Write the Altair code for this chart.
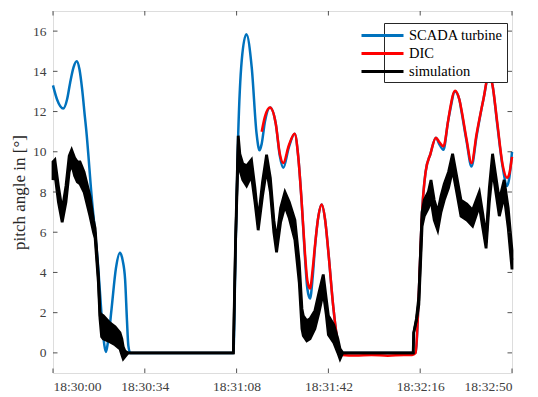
import altair as alt
import pandas as pd

# ---- data (time in seconds after 18:30:00, pitch in degrees)
scada_t = [0, 1.5, 3.8, 5.2, 6.3, 7.6, 8.8, 9.8, 10.8, 11.8, 12.3, 14.3, 16.8, 18.0, 19.0, 19.6,
           20.3, 21.7, 23.3, 24.8, 25.8, 26.7, 27.4, 27.9, 28.6, 66.8, 67.6, 68.6, 69.9, 71.6,
           73.6, 75.4, 76.5, 77.3, 78.5, 80.4, 82.5, 84.0, 85.3, 87.3, 89.5, 90.8, 92.1, 93.3,
           94.2, 95.2, 96.2, 97.0, 98.3, 99.5, 100.8, 102.0, 103.8, 105.1, 106.3, 107.2, 134.3,
           135.5, 136.5, 138.0, 139.8, 141.8, 143.0, 144.6, 146.3, 147.0, 148.9, 150.5, 151.3,
           153.2, 155.0, 156.9, 159.4, 161.5, 162.8, 164.5, 166.6, 168.2, 169.0, 170.0]
scada_v = [13.3, 12.6, 12.15, 12.6, 13.4, 14.2, 14.5, 14.1, 13.1, 11.75, 11.1, 7.8, 4.16, 1.85, 0.4, 0.05,
           0.5, 2.2, 4.2, 4.98, 4.6, 3.66, 1.6, 0.36, 0.0, 0.0, 5.0, 10.9, 14.55, 15.85,
           14.2, 10.9, 10.07, 10.4, 11.5, 12.2, 11.4, 9.8, 9.2, 10.2, 10.9, 9.8, 7.5, 4.8,
           3.2, 2.7, 3.8, 5.2, 6.8, 7.38, 6.6, 5.0, 2.3, 0.8, 0.05, 0.0, 0.0,
           3.0, 6.5, 9.0, 9.9, 10.7, 10.4, 10.1, 11.5, 12.0, 13.0, 12.6, 12.0,
           10.5, 9.27, 10.8, 12.6, 13.8, 13.3, 11.4, 9.2, 8.3, 8.7, 10.0]

dic_t = [77.3, 78.5, 80.4, 82.5, 84.0, 85.3, 87.3, 89.5, 90.8, 92.1, 93.3, 94.2, 95.2, 96.2, 97.0,
         98.3, 99.5, 100.8, 102.0, 103.8, 105.1, 106.3, 107.2, 112.0, 118.0, 124.0, 130.0, 133.0,
         134.3, 135.5, 136.5, 138.0, 139.8, 141.8, 143.0, 144.6, 146.3, 147.0, 148.9, 150.5,
         151.3, 153.2, 155.0, 156.9, 159.4, 161.5, 162.8, 164.5, 166.6, 168.2, 169.0, 170.0]
dic_v = [11.0, 11.75, 12.2, 11.4, 9.9, 9.44, 10.3, 10.9, 9.8, 7.5, 5.0, 3.6, 3.2, 4.2, 5.3,
         6.8, 7.38, 6.6, 5.0, 2.3, 0.86, 0.1, -0.1, -0.13, -0.1, -0.14, -0.1, -0.1,
         0.0, 3.0, 6.5, 9.0, 9.9, 10.7, 10.5, 10.27, 11.5, 12.08, 13.04, 12.6,
         12.08, 10.6, 9.44, 10.9, 12.6, 13.9, 13.3, 11.5, 9.3, 8.7, 8.9, 9.75]

sim_t = [0, 0.7, 2.0, 3.4, 4.8, 6.0, 6.9, 8.0, 9.0, 10.0, 11.5, 13.7, 15.0, 15.6, 16.8, 17.4,
         18.0, 18.6, 21.0, 23.0, 24.8, 25.5, 26.0, 26.6, 27.8, 66.8, 67.6, 68.6, 69.2, 70.3,
         71.7, 73.5, 74.8, 76.0, 77.6, 79.1, 80.5, 81.8, 82.8, 84.3, 85.9, 87.5, 89.6, 91.2,
         92.2, 92.7, 94.0, 95.2, 97.0, 98.5, 100.1, 101.2, 102.0, 104.0, 105.5, 106.3, 107.3,
         133.4, 133.6, 134.6, 135.5, 136.7, 137.5, 139.0, 140.0, 141.2, 142.5, 143.7, 144.9,
         146.5, 148.0, 149.5, 151.1, 153.3, 155.4, 157.9, 159.2, 160.4, 161.6, 162.8, 164.0,
         165.3, 167.1, 168.6, 170.0]
sim_lo = [8.6, 8.9, 7.5, 6.5, 7.5, 9.0, 9.4, 8.8, 8.5, 8.4, 8.0, 6.8, 6.0, 5.7, 3.5, 1.7,
          0.8, 0.7, 0.55, 0.4, 0.2, -0.1, -0.3, -0.2, 0.0, 0.0, 5.5, 10.0, 9.1, 8.6,
          8.3, 8.8, 7.5, 6.1, 7.8, 9.1, 8.0, 6.0, 5.0, 6.5, 7.3, 6.7, 5.6, 3.5,
          1.2, 0.86, 0.6, 0.7, 1.2, 2.0, 3.0, 1.9, 0.9, 0.5, 0.0, -0.3, 0.0,
          0.0, 1.0, 1.6, 2.4, 6.3, 6.8, 7.2, 7.6, 6.6, 6.1, 7.0, 7.6,
          8.2, 9.1, 8.0, 6.8, 6.6, 6.3, 7.3, 6.2, 5.2, 7.5, 9.1, 8.0,
          6.8, 7.8, 6.2, 4.15]
sim_hi = [9.5, 9.6, 8.3, 7.1, 8.3, 9.8, 10.1, 9.7, 9.5, 9.5, 9.0, 7.8, 6.6, 6.2, 3.9, 2.0,
          1.9, 1.85, 1.5, 1.3, 1.0, 0.7, 0.3, 0.1, 0.0, 0.0, 5.5, 10.8, 9.9, 9.4,
          9.3, 9.6, 8.2, 6.6, 8.5, 9.85, 8.7, 6.6, 5.6, 7.2, 8.0, 7.5, 6.6, 4.5,
          2.2, 1.85, 1.6, 1.7, 2.1, 3.0, 3.9, 2.7, 1.85, 1.4, 0.7, 0.2, 0.0,
          0.0, 1.0, 1.7, 2.8, 7.0, 7.6, 8.0, 8.6, 7.6, 7.0, 7.8, 8.4,
          9.0, 9.9, 8.8, 7.6, 7.4, 7.1, 8.0, 6.9, 5.75, 8.2, 9.9, 8.8,
          7.6, 8.6, 7.2, 5.1]

series_names = ["SCADA turbine", "DIC", "simulation"]
series_colors = ["#0072BD", "#FF0000", "#000000"]
x_ticks = [0, 34, 68, 102, 136, 170]
x_labels = ["18:30:00", "18:30:34", "18:31:08", "18:31:42", "18:32:16", "18:32:50"]
y_ticks = [0, 2, 4, 6, 8, 10, 12, 14, 16]

W, H = 459, 362
FONT = "Liberation Serif"
AX = "#262626"

scada = pd.DataFrame({"t": scada_t, "v": scada_v, "s": series_names[0]})
dic = pd.DataFrame({"t": dic_t, "v": dic_v, "s": series_names[1]})
sim = pd.DataFrame({"t": sim_t, "lo": sim_lo, "hi": sim_hi})
sim["v"] = (sim["lo"] + sim["hi"]) / 2
sim["s"] = series_names[2]

xscale = alt.Scale(domain=[0, 170], nice=False, zero=False)
yscale = alt.Scale(domain=[-1, 17], nice=False, zero=False)
color = alt.Color(
    "s:N",
    scale=alt.Scale(domain=series_names, range=series_colors),
    legend=alt.Legend(
        title=None, orient="none", legendX=331, legendY=12,
        symbolType="M-5,0H1", symbolSize=196, symbolStrokeWidth=3,
        labelFont=FONT, labelFontSize=14.5, labelColor="black", labelOffset=4,
        strokeColor=AX, fillColor="white", padding=4, rowPadding=3,
    ),
)

label_expr = "[" + ",".join("'%s'" % s for s in x_labels) + "][round(datum.value / 34)]"

x_axis = alt.Axis(
    values=x_ticks, labelExpr=label_expr, title=None, ticks=False, domain=False, grid=False,
    labelFont=FONT, labelFontSize=13.5, labelColor="#404040", labelPadding=6)
y_axis = alt.Axis(
    values=y_ticks, title="pitch angle in [°]", ticks=False, domain=False, grid=False,
    labelFont=FONT, labelFontSize=13.5, labelColor="#404040", labelPadding=7,
    titleFont=FONT, titleFontSize=17, titleFontWeight="normal", titleColor="#262626",
    titlePadding=4)

x_enc = alt.X("t:Q", scale=xscale, axis=x_axis)
y_enc = alt.Y("v:Q", scale=yscale, axis=y_axis)

l_scada = alt.Chart(scada).mark_line(strokeWidth=2.5, interpolate="monotone").encode(
    x=x_enc, y=y_enc, color=color)
l_dic = alt.Chart(dic).mark_line(strokeWidth=2.5, interpolate="monotone").encode(
    x=x_enc, y=y_enc, color=color)
a_sim = alt.Chart(sim).mark_area(color="black", stroke="black", strokeWidth=2.8).encode(
    x=x_enc, y=alt.Y("lo:Q", scale=yscale, axis=y_axis), y2="hi:Q")
l_sim = alt.Chart(sim).mark_line(strokeWidth=2.5).encode(x=x_enc, y=y_enc, color=color)

ydf = pd.DataFrame({"v": y_ticks})
xdf = pd.DataFrame({"t": x_ticks})
tk = dict(color=AX, strokeWidth=0.8)
t_left = alt.Chart(ydf).mark_rule(**tk).encode(y=y_enc, x=alt.value(0), x2=alt.value(4.5))
t_right = alt.Chart(ydf).mark_rule(**tk).encode(y=y_enc, x=alt.value(W - 4.5), x2=alt.value(W))
t_bot = alt.Chart(xdf).mark_rule(**tk).encode(x=x_enc, y=alt.value(H - 4.5), y2=alt.value(H))
t_top = alt.Chart(xdf).mark_rule(**tk).encode(x=x_enc, y=alt.value(0), y2=alt.value(4.5))

chart = alt.layer(l_scada, l_dic, a_sim, l_sim, t_left, t_right, t_bot, t_top).properties(
    width=W, height=H,
    autosize=alt.AutoSizeParams(type="none"),
    padding={"left": 45, "top": 3, "right": 18, "bottom": 20},
).configure_view(stroke=AX, strokeWidth=1).configure(background="white").configure_legend(
    labelFont=FONT)

chart.save("out.html", embed_options={"renderer": "svg", "actions": False})
